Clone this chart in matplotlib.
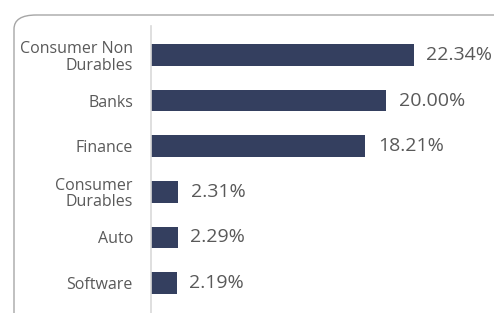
import matplotlib.pyplot as plt
from matplotlib.patches import FancyBboxPatch

categories = ["Consumer Non\nDurables", "Banks", "Finance", "Consumer\nDurables", "Auto", "Software"]
values = [22.34, 20.00, 18.21, 2.31, 2.29, 2.19]
labels = ["22.34%", "20.00%", "18.21%", "2.31%", "2.29%", "2.19%"]

W, H = 494, 313
fig = plt.figure(figsize=(W / 100, H / 100), dpi=100)

# rounded frame, cut off at right and bottom
frame = FancyBboxPatch((14 / W, -0.2), 1.2, 1 - 15 / H + 0.2,
                       boxstyle="round,pad=0,rounding_size=0.045",
                       transform=fig.transFigure, fill=False,
                       edgecolor="#a6a6a6", linewidth=1.0)
fig.patches.append(frame)

ax = fig.add_axes([151 / W, 0, 1 - 151 / W, 1 - 26 / H])
ypos = list(range(len(categories)))
ax.barh(ypos, values, height=0.47, color="#343f5f")
ax.set_xlim(0, (W - 151) / 11.77)
ax.set_ylim(5.658, -0.636)

for y, v, t in zip(ypos, values, labels):
    ax.annotate(t, (v, y), xytext=(9, 0), textcoords="offset points",
                va="center", ha="left", fontsize=14, color="#595959",
                family="Open Sans")

ax.set_yticks(ypos)
ax.set_yticklabels(categories, fontsize=11.5, color="#595959",
                   family="Open Sans", linespacing=1.05)
ax.tick_params(axis="y", length=0, pad=13)
ax.set_xticks([])
for s in ["top", "right", "bottom"]:
    ax.spines[s].set_visible(False)
ax.spines["left"].set_color("#d9d9d9")
ax.spines["left"].set_linewidth(1.2)
ax.patch.set_alpha(0)

fig.savefig("out.png", dpi=100)
